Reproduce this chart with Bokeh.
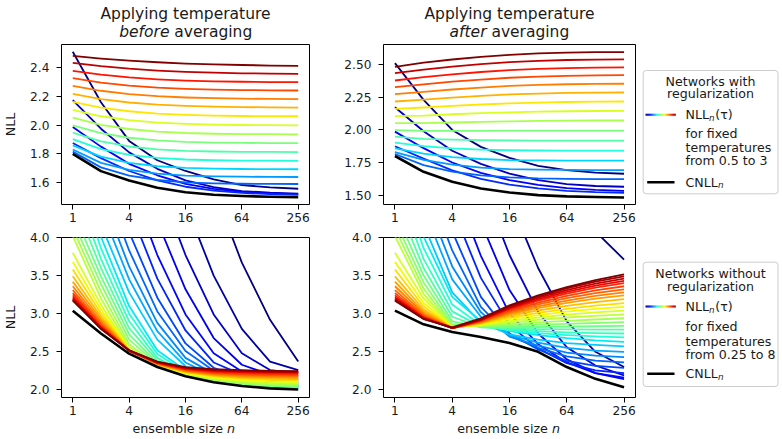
import numpy as np
from bokeh.plotting import figure
from bokeh.models import Range1d, FixedTicker, NumeralTickFormatter
from bokeh.layouts import row, column
from bokeh.embed import file_html
from bokeh.resources import INLINE
from bokeh.core.properties import value

# ---------------- data ----------------
ensemble_size = [1, 2, 4, 8, 16, 32, 64, 128, 256]
x_ticks = [1, 4, 16, 64, 256]

# top row: networks with regularization, 19 temperatures (hot -> cold)
tl_nll = [
    [2.484, 2.465, 2.450, 2.439, 2.430, 2.424, 2.420, 2.416, 2.414],
    [2.435, 2.412, 2.394, 2.381, 2.372, 2.366, 2.362, 2.360, 2.358],
    [2.379, 2.352, 2.333, 2.320, 2.311, 2.306, 2.303, 2.301, 2.300],
    [2.328, 2.297, 2.276, 2.262, 2.253, 2.248, 2.245, 2.243, 2.242],
    [2.274, 2.240, 2.217, 2.202, 2.193, 2.188, 2.185, 2.183, 2.182],
    [2.218, 2.182, 2.158, 2.143, 2.134, 2.129, 2.126, 2.124, 2.123],
    [2.162, 2.122, 2.097, 2.081, 2.072, 2.067, 2.064, 2.063, 2.062],
    [2.106, 2.062, 2.035, 2.018, 2.009, 2.004, 2.001, 2.000, 1.999],
    [2.052, 2.002, 1.973, 1.955, 1.945, 1.940, 1.938, 1.937, 1.936],
    [1.999, 1.944, 1.912, 1.893, 1.883, 1.878, 1.876, 1.875, 1.874],
    [1.948, 1.886, 1.851, 1.831, 1.821, 1.816, 1.814, 1.813, 1.812],
    [1.903, 1.832, 1.793, 1.771, 1.760, 1.755, 1.753, 1.752, 1.751],
    [1.859, 1.780, 1.737, 1.713, 1.701, 1.696, 1.694, 1.693, 1.692],
    [1.830, 1.737, 1.688, 1.661, 1.648, 1.642, 1.640, 1.639, 1.638],
    [1.815, 1.705, 1.648, 1.617, 1.601, 1.594, 1.591, 1.590, 1.589],
    [1.875, 1.770, 1.680, 1.615, 1.570, 1.543, 1.527, 1.518, 1.513],
    [1.987, 1.850, 1.730, 1.650, 1.590, 1.555, 1.535, 1.524, 1.518],
    [2.174, 1.975, 1.810, 1.695, 1.614, 1.567, 1.540, 1.528, 1.521],
    [2.512, 2.160, 1.890, 1.755, 1.680, 1.622, 1.582, 1.565, 1.556],
]
tl_cnll = [1.800, 1.679, 1.614, 1.563, 1.532, 1.514, 1.505, 1.500, 1.497]

tr_nll = [
    [2.484, 2.516, 2.540, 2.560, 2.576, 2.587, 2.593, 2.596, 2.597],
    [2.435, 2.462, 2.486, 2.505, 2.520, 2.530, 2.536, 2.539, 2.541],
    [2.379, 2.404, 2.426, 2.444, 2.458, 2.468, 2.474, 2.477, 2.479],
    [2.328, 2.350, 2.370, 2.386, 2.400, 2.409, 2.415, 2.418, 2.420],
    [2.274, 2.292, 2.310, 2.325, 2.337, 2.345, 2.350, 2.353, 2.354],
    [2.218, 2.232, 2.248, 2.261, 2.272, 2.279, 2.284, 2.286, 2.287],
    [2.162, 2.172, 2.184, 2.195, 2.204, 2.210, 2.214, 2.217, 2.218],
    [2.106, 2.110, 2.120, 2.128, 2.135, 2.140, 2.143, 2.145, 2.146],
    [2.052, 2.052, 2.057, 2.062, 2.066, 2.069, 2.071, 2.072, 2.072],
    [1.999, 1.992, 1.992, 1.993, 1.994, 1.994, 1.995, 1.995, 1.995],
    [1.948, 1.932, 1.925, 1.921, 1.919, 1.918, 1.918, 1.918, 1.918],
    [1.903, 1.875, 1.858, 1.849, 1.844, 1.842, 1.841, 1.841, 1.841],
    [1.859, 1.818, 1.792, 1.777, 1.769, 1.766, 1.765, 1.764, 1.764],
    [1.830, 1.770, 1.733, 1.711, 1.700, 1.695, 1.693, 1.692, 1.692],
    [1.815, 1.730, 1.680, 1.651, 1.636, 1.628, 1.625, 1.623, 1.623],
    [1.875, 1.780, 1.690, 1.625, 1.580, 1.552, 1.533, 1.523, 1.518],
    [1.987, 1.860, 1.750, 1.670, 1.615, 1.578, 1.553, 1.540, 1.533],
    [2.174, 1.990, 1.840, 1.740, 1.665, 1.615, 1.585, 1.570, 1.564],
    [2.512, 2.230, 2.000, 1.870, 1.785, 1.725, 1.692, 1.672, 1.664],
]
tr_cnll = [1.800, 1.679, 1.603, 1.551, 1.520, 1.500, 1.490, 1.485, 1.482]

# bottom row: networks without regularization, 32 temperatures (hot -> cold)
bl_nll = [
    [3.170, 2.800, 2.520, 2.370, 2.300, 2.272, 2.258, 2.250, 2.246],
    [3.180, 2.805, 2.518, 2.366, 2.293, 2.264, 2.250, 2.243, 2.240],
    [3.195, 2.812, 2.516, 2.362, 2.286, 2.256, 2.242, 2.235, 2.232],
    [3.215, 2.822, 2.514, 2.358, 2.279, 2.247, 2.233, 2.226, 2.223],
    [3.240, 2.835, 2.513, 2.354, 2.272, 2.238, 2.223, 2.215, 2.212],
    [3.270, 2.850, 2.512, 2.350, 2.265, 2.228, 2.212, 2.204, 2.200],
    [3.310, 2.870, 2.512, 2.346, 2.258, 2.218, 2.200, 2.191, 2.187],
    [3.360, 2.895, 2.513, 2.342, 2.251, 2.208, 2.188, 2.177, 2.173],
    [3.420, 2.925, 2.515, 2.338, 2.244, 2.198, 2.175, 2.163, 2.158],
    [3.490, 2.960, 2.518, 2.334, 2.237, 2.188, 2.162, 2.148, 2.143],
    [3.580, 3.005, 2.522, 2.330, 2.230, 2.177, 2.148, 2.133, 2.127],
    [3.680, 3.055, 2.527, 2.326, 2.222, 2.166, 2.134, 2.117, 2.111],
    [3.800, 3.115, 2.533, 2.322, 2.215, 2.155, 2.120, 2.101, 2.095],
    [4.020, 3.200, 2.560, 2.318, 2.204, 2.142, 2.105, 2.086, 2.080],
    [4.120, 3.290, 2.600, 2.322, 2.198, 2.130, 2.092, 2.072, 2.066],
    [4.220, 3.390, 2.660, 2.335, 2.194, 2.122, 2.082, 2.060, 2.054],
    [4.350, 3.490, 2.730, 2.355, 2.196, 2.117, 2.074, 2.051, 2.045],
    [4.520, 3.600, 2.810, 2.385, 2.205, 2.114, 2.068, 2.044, 2.038],
    [4.720, 3.720, 2.900, 2.420, 2.218, 2.118, 2.065, 2.038, 2.033],
    [4.950, 3.860, 3.000, 2.470, 2.235, 2.125, 2.066, 2.037, 2.030],
    [5.200, 4.010, 3.100, 2.520, 2.255, 2.133, 2.070, 2.039, 2.031],
    [5.450, 4.170, 3.280, 2.660, 2.310, 2.155, 2.090, 2.050, 2.035],
    [5.700, 4.380, 3.450, 2.770, 2.360, 2.180, 2.100, 2.060, 2.042],
    [5.950, 4.580, 3.620, 2.880, 2.420, 2.210, 2.120, 2.070, 2.052],
    [6.200, 4.810, 3.830, 3.030, 2.510, 2.250, 2.140, 2.085, 2.066],
    [6.500, 5.070, 4.070, 3.210, 2.610, 2.290, 2.165, 2.100, 2.085],
    [6.800, 5.400, 4.390, 3.460, 2.780, 2.360, 2.200, 2.130, 2.110],
    [7.100, 5.750, 4.750, 3.770, 2.990, 2.480, 2.240, 2.165, 2.140],
    [7.400, 6.200, 5.200, 4.210, 3.320, 2.680, 2.330, 2.200, 2.180],
    [7.700, 6.700, 5.700, 4.740, 3.770, 2.990, 2.480, 2.260, 2.220],
    [8.500, 7.400, 6.400, 5.440, 4.440, 3.500, 2.800, 2.370, 2.260],
    [9.600, 8.600, 7.600, 6.600, 5.600, 4.640, 3.670, 2.920, 2.374],
]
bl_cnll = [3.040, 2.740, 2.475, 2.300, 2.180, 2.100, 2.050, 2.020, 2.005]

br_nll = [
    [3.170, 2.930, 2.820, 2.940, 3.110, 3.240, 3.350, 3.440, 3.516],
    [3.180, 2.935, 2.815, 2.926, 3.095, 3.225, 3.333, 3.422, 3.490],
    [3.195, 2.940, 2.812, 2.920, 3.080, 3.207, 3.310, 3.395, 3.460],
    [3.215, 2.945, 2.810, 2.915, 3.070, 3.188, 3.287, 3.368, 3.430],
    [3.240, 2.955, 2.810, 2.910, 3.058, 3.170, 3.264, 3.341, 3.400],
    [3.270, 2.965, 2.810, 2.904, 3.041, 3.146, 3.234, 3.305, 3.360],
    [3.310, 2.980, 2.810, 2.897, 3.024, 3.121, 3.203, 3.269, 3.320],
    [3.360, 3.000, 2.810, 2.890, 3.007, 3.097, 3.172, 3.233, 3.280],
    [3.420, 3.025, 2.810, 2.883, 2.990, 3.072, 3.141, 3.197, 3.240],
    [3.490, 3.055, 2.812, 2.875, 2.970, 3.042, 3.103, 3.152, 3.190],
    [3.580, 3.095, 2.815, 2.866, 2.949, 3.011, 3.064, 3.107, 3.140],
    [3.680, 3.140, 2.820, 2.858, 2.928, 2.981, 3.026, 3.062, 3.090],
    [3.800, 3.200, 2.825, 2.849, 2.907, 2.950, 2.987, 3.017, 3.040],
    [4.020, 3.260, 2.830, 2.845, 2.886, 2.920, 2.950, 2.972, 2.990],
    [4.120, 3.330, 2.840, 2.842, 2.862, 2.885, 2.905, 2.924, 2.940],
    [4.220, 3.410, 2.860, 2.835, 2.845, 2.856, 2.866, 2.878, 2.890],
    [4.350, 3.500, 2.900, 2.825, 2.825, 2.825, 2.830, 2.835, 2.840],
    [4.520, 3.600, 2.960, 2.820, 2.805, 2.798, 2.794, 2.792, 2.790],
    [4.720, 3.720, 3.030, 2.830, 2.790, 2.770, 2.756, 2.746, 2.740],
    [4.950, 3.860, 3.120, 2.850, 2.780, 2.745, 2.720, 2.702, 2.690],
    [5.200, 4.010, 3.220, 2.900, 2.770, 2.720, 2.680, 2.650, 2.630],
    [5.450, 4.170, 3.280, 2.880, 2.730, 2.660, 2.615, 2.590, 2.570],
    [5.700, 4.380, 3.450, 2.960, 2.720, 2.620, 2.550, 2.515, 2.500],
    [5.950, 4.580, 3.620, 3.020, 2.700, 2.580, 2.490, 2.450, 2.430],
    [6.200, 4.810, 3.830, 3.090, 2.710, 2.550, 2.440, 2.385, 2.360],
    [6.500, 5.070, 4.080, 3.220, 2.740, 2.530, 2.380, 2.315, 2.290],
    [6.800, 5.400, 4.390, 3.470, 2.850, 2.545, 2.350, 2.255, 2.220],
    [7.100, 5.750, 4.730, 3.760, 3.000, 2.600, 2.360, 2.220, 2.160],
    [7.400, 6.200, 5.200, 4.200, 3.310, 2.740, 2.400, 2.220, 2.140],
    [7.700, 6.700, 5.700, 4.740, 3.770, 3.020, 2.560, 2.320, 2.190],
    [8.500, 7.500, 6.500, 5.500, 4.500, 3.600, 2.900, 2.500, 2.300],
    [9.600, 8.800, 8.000, 7.200, 6.400, 5.600, 4.800, 4.080, 3.710],
]
br_cnll = [3.040, 2.860, 2.760, 2.695, 2.615, 2.500, 2.300, 2.145, 2.035]

tl_yticks = [1.6, 1.8, 2.0, 2.2, 2.4]
tr_yticks = [1.50, 1.75, 2.00, 2.25, 2.50]
bottom_yticks = [2.0, 2.5, 3.0, 3.5, 4.0]

# ---------------- styling ----------------
FONT = "DejaVu Sans"
TXT = "#1a1a1a"
COLW = 319
FRAMEW = 252


def jet(f):
    r = np.interp(f, [0, 0.35, 0.66, 0.89, 1], [0, 0, 1, 1, 0.5])
    g = np.interp(f, [0, 0.125, 0.375, 0.64, 0.91, 1], [0, 0, 1, 1, 0, 0])
    b = np.interp(f, [0, 0.11, 0.34, 0.65, 1], [0.5, 1, 1, 0, 0])
    return "#%02x%02x%02x" % (int(round(r * 255)), int(round(g * 255)), int(round(b * 255)))


def blank(width, height, b_left=0, b_right=0):
    inner = width - b_left - b_right
    f = figure(width=width, height=height, x_range=Range1d(0, inner), y_range=Range1d(height, 0),
               output_backend="svg", toolbar_location=None,
               x_axis_location=None, y_axis_location=None,
               min_border=0, min_border_left=b_left, min_border_right=b_right,
               min_border_top=0, min_border_bottom=0)
    f.grid.visible = False
    f.outline_line_color = None
    f.background_fill_color = "white"
    f.border_fill_color = "white"
    return f


def make_panel(curves, cnll, y_lo, y_hi, y_ticks, y_fmt, height,
               b_left, b_right, b_top, b_bottom, ylabel=None):
    p = figure(width=COLW, height=height, x_axis_type="log",
               x_range=Range1d(2 ** -0.4, 2 ** 8.4), y_range=Range1d(y_lo, y_hi),
               output_backend="svg", toolbar_location=None,
               min_border_left=b_left, min_border_right=b_right,
               min_border_top=b_top, min_border_bottom=b_bottom)
    p.xgrid.visible = False
    p.ygrid.visible = False
    p.background_fill_color = "white"
    p.border_fill_color = "white"
    p.outline_line_color = "black"
    p.outline_line_width = 1
    p.outline_line_alpha = 1
    p.xaxis.ticker = FixedTicker(ticks=x_ticks)
    p.xaxis.formatter = NumeralTickFormatter(format="0")
    p.yaxis.ticker = FixedTicker(ticks=y_ticks)
    p.yaxis.formatter = NumeralTickFormatter(format=y_fmt)
    for ax in p.axis:
        ax.axis_line_color = None
        ax.major_tick_line_color = "black"
        ax.major_tick_line_width = 1
        ax.major_tick_out = 5
        ax.major_tick_in = 0
        ax.minor_tick_line_color = None
        ax.major_label_text_font = FONT
        ax.major_label_text_font_size = "12.2px"
        ax.major_label_text_color = TXT
    p.xaxis.major_label_standoff = 3
    p.yaxis.major_label_standoff = 7
    if ylabel:
        p.yaxis.axis_label = ylabel
        p.yaxis.axis_label_text_font = FONT
        p.yaxis.axis_label_text_font_style = "normal"
        p.yaxis.axis_label_text_font_size = "12.7px"
        p.yaxis.axis_label_text_color = TXT
        p.yaxis.axis_label_standoff = 9
    n = len(curves)
    colors = [jet(1 - k / (n - 1)) for k in range(n)]
    p.multi_line(xs=[ensemble_size] * n, ys=curves[::-1], line_color=colors[::-1],
                 line_width=1.8, line_join="round")
    p.line(ensemble_size, cnll, line_color="black", line_width=2.6, line_join="round")
    return p


def make_header(b_left, b_right, word, anchor_x):
    h = blank(COLW, 42, b_left, b_right)
    kw = dict(text_baseline="middle", text_font=value(FONT), text_font_size="15.5px",
              text_color=TXT)
    h.text(x=[FRAMEW / 2], y=[13.6], text=["Applying temperature"], text_align="center", **kw)
    h.text(x=[anchor_x], y=[31.0], text=[word], text_align="right", text_font_style="italic", **kw)
    h.text(x=[anchor_x], y=[31.0], text=["averaging"], text_align="left", x_offset=4.9, **kw)
    return h


def make_footer(b_left, b_right, anchor_x):
    f = blank(COLW, 17, b_left, b_right)
    kw = dict(text_baseline="middle", text_font=value(FONT), text_font_size="12.7px",
              text_color=TXT)
    f.text(x=[anchor_x], y=[8.2], text=["ensemble size"], text_align="right", **kw)
    f.text(x=[anchor_x], y=[8.2], text=["n"], text_align="left", x_offset=4.0,
           text_font_style="italic", **kw)
    return f


tl = make_panel(tl_nll, tl_cnll, 1.446, 2.563, tl_yticks, "0.0", 186, 57, 10, 2, 24, "NLL")
bl = make_panel(bl_nll, bl_cnll, 1.90, 4.0, bottom_yticks, "0.0", 192, 57, 10, 9, 23, "NLL")
tr = make_panel(tr_nll, tr_cnll, 1.428, 2.655, tr_yticks, "0.00", 186, 64, 3, 2, 24)
br = make_panel(br_nll, br_cnll, 1.90, 4.0, bottom_yticks, "0.0", 192, 64, 3, 9, 23)

h1 = make_header(57, 10, "before", 109.7)
h2 = make_header(64, 3, "after", 103.0)
f1 = make_footer(57, 10, 164.2)
f2 = make_footer(64, 3, 164.4)

# ---------------- legend column ----------------
LEGW = 142
leg = blank(LEGW, 437)
LFS = "12.6px"


def legend_block(top, bottom, title1, title2, t1_y, t2_y, grad_y, lines_y, black_y, temp_text):
    leg.quad(left=4.7, right=139.5, top=top, bottom=bottom, fill_color="white",
             line_color="#cccccc", line_width=1, border_radius=3)
    leg.text(x=[72, 72], y=[t1_y, t2_y], text=[title1, title2], text_align="center",
             text_baseline="middle", text_font=value(FONT), text_font_size=LFS,
             text_color=TXT)
    segs = 30
    xs = np.linspace(7, 37, segs + 1)
    leg.segment(x0=xs[:-1], x1=xs[1:] + 0.3, y0=[grad_y] * segs, y1=[grad_y] * segs,
                line_color=[jet(i / (segs - 1)) for i in range(segs)], line_width=2)
    leg.text(x=[47], y=[grad_y], text=["NLL"], text_align="left", text_baseline="middle",
             text_font=value(FONT), text_font_size=LFS, text_color=TXT)
    leg.text(x=[70.6], y=[grad_y + 3], text=["n"], text_align="left", text_baseline="middle",
             text_font=value(FONT), text_font_style="italic", text_font_size="8.8px",
             text_color=TXT)
    leg.text(x=[76.8], y=[grad_y], text=["(\u03c4)"], text_align="left",
             text_baseline="middle", text_font=value(FONT), text_font_size=LFS,
             text_color=TXT)
    leg.text(x=[47, 47, 47], y=lines_y, text=["for fixed", "temperatures", temp_text],
             text_align="left", text_baseline="middle", text_font=value(FONT),
             text_font_size=LFS, text_color=TXT)
    leg.segment(x0=[8.7], x1=[36], y0=[black_y], y1=[black_y], line_color="black",
                line_width=2.6)
    leg.text(x=[47], y=[black_y], text=["CNLL"], text_align="left", text_baseline="middle",
             text_font=value(FONT), text_font_size=LFS, text_color=TXT)
    leg.text(x=[79.4], y=[black_y + 3], text=["n"], text_align="left",
             text_baseline="middle", text_font=value(FONT), text_font_style="italic",
             text_font_size="8.8px", text_color=TXT)


legend_block(70, 193.3, "Networks with", "regularization", 81, 93.3, 114.3,
             [132.7, 147.3, 160], 181.7, "from 0.5 to 3")
legend_block(261.7, 386, "Networks without", "regularization", 272.7, 286, 306,
             [326, 340.7, 354.3], 373.3, "from 0.25 to 8")

layout = row(column(h1, tl, bl, f1), column(h2, tr, br, f2), leg)

open("out.html", "w").write(file_html(layout, INLINE, title="NLL vs ensemble size"))
